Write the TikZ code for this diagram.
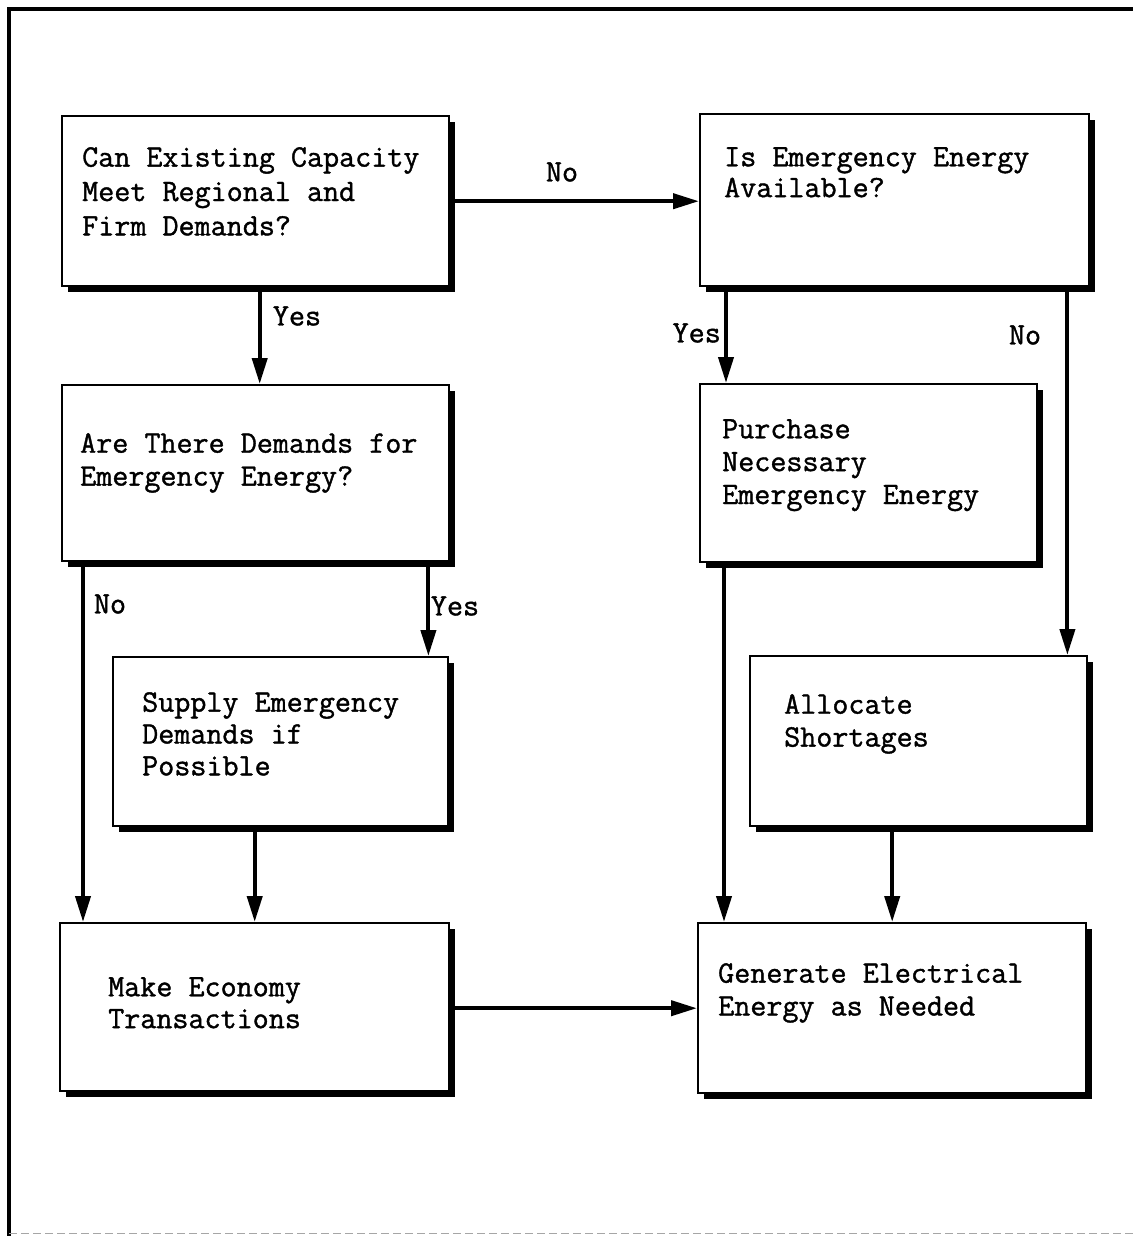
\documentclass[tikz,border=0pt]{standalone}
\usepackage{fontspec}
\newfontfamily\typewriter[FakeBold=1.2]{Latin Modern Mono}
\usetikzlibrary{arrows.meta,shadows,calc}
\begin{document}
\begin{tikzpicture}[x=1bp,y=-1bp,
  box/.style={draw, line width=2.4bp, fill=white, inner sep=0pt, anchor=north west,
    drop shadow={shadow xshift=6bp, shadow yshift=-6bp, opacity=1, fill=black}},
  txt/.style={anchor=north west, inner sep=0pt, align=left,
    font=\typewriter\fontsize{31.3}{33}\selectfont},
  lbl/.style={inner sep=0pt, font=\typewriter\fontsize{31.3}{33}\selectfont},
  conn/.style={line width=4bp, -{Triangle[length=26bp,width=15bp]}}]
\useasboundingbox (0,0) rectangle (1133,1236);

% outer frame
\draw[line width=3.5bp] (1133,9) -- (9,9) -- (9,1236);
\draw[black!35, line width=1bp, dash pattern=on 8bp off 4bp] (9,1233) -- (1133,1233);

% boxes
\node[box, minimum width=387bp, minimum height=170bp] (b1) at (61,115) {};
\node[box, minimum width=389bp, minimum height=172bp] (b2) at (699,113) {};
\node[box, minimum width=387bp, minimum height=176bp] (b3) at (61,384) {};
\node[box, minimum width=337bp, minimum height=178bp] (b4) at (699,383) {};
\node[box, minimum width=335bp, minimum height=169bp] (b5) at (112,656) {};
\node[box, minimum width=337bp, minimum height=170bp] (b6) at (749,655) {};
\node[box, minimum width=389bp, minimum height=168bp] (b7) at (59,922) {};
\node[box, minimum width=388bp, minimum height=170bp] (b8) at (697,922) {};

% box texts
\node[txt] (t1) at (82,147) {Can Existing Capacity\\[1.5bp]Meet Regional and\\[1.5bp]Firm Demands?};
\node[txt] (t2) at (724,147) {Is Emergency Energy\\[-2bp]Available?};
\node[txt] (t3) at (80,433) {Are There Demands for\\Emergency Energy?};
\node[txt] (t4) at (722,419) {Purchase\\Necessary\\Emergency Energy};
\node[txt] (t5) at (142,692) {Supply Emergency\\[-1bp]Demands if\\[-1bp]Possible};
\node[txt] (t6) at (784,694) {Allocate\\Shortages};
\node[txt] (t7) at (108,977) {Make Economy\\[-1bp]Transactions};
\node[txt] (t8) at (718,963) {Generate Electrical\\Energy as Needed};

% branch points on the box edges
\coordinate (p1) at ($(b1.south)+(4,0)$);
\coordinate (q1) at ($(b3.north)+(4,0)$);
\coordinate (p2) at ($(b2.south west)+(27,0)$);
\coordinate (q2) at ($(b4.north west)+(27,0)$);
\coordinate (q3) at ($(b6.north east)+(-21,0)$);
\coordinate (q4) at ($(b7.north west)+(24,0)$);
\coordinate (q5) at ($(b5.north east)+(-21,0)$);
\coordinate (q6) at ($(b8.north west)+(27,0)$);

% connectors
\draw[conn] (b1.east) -- (b1.east -| b2.west);
\draw[conn] (p1) -- (q1);
\draw[conn] (p2) -- (q2);
\draw[conn] (q3 |- b2.south) -- (q3);
\draw[conn] (q4 |- b3.south) -- (q4);
\draw[conn] (q5 |- b3.south) -- (q5);
\draw[conn] (b5.south -| b7.north) -- (b7.north);
\draw[conn] (q6 |- b4.south) -- (q6);
\draw[conn] (b6.south -| b8.north) -- (b8.north);
\draw[conn] (b7.east |- b8.west) -- (b8.west);

% branch labels
\node[lbl] (n1) at (562,172) {No};
\node[lbl] (y1) at (297,316) {Yes};
\node[lbl, anchor=east] (y2) at (721,333) {Yes};
\node[lbl] (n2) at (1025,335) {No};
\node[lbl] (n3) at (110,604) {No};
\node[lbl] (y3) at (455,606) {Yes};
\end{tikzpicture}
\end{document}
